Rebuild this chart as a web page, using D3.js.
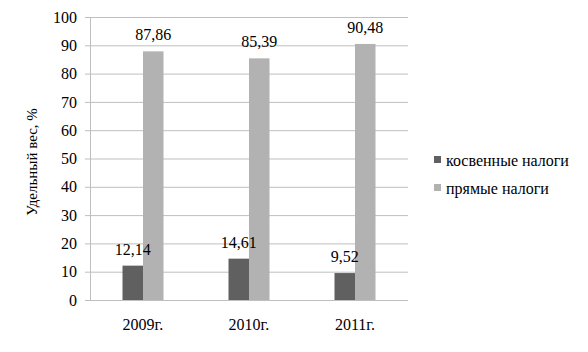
<!DOCTYPE html>
<html>
<head>
<meta charset="utf-8">
<script src="https://cdn.jsdelivr.net/npm/d3@7"></script>
<style>
  body { margin: 0; background: #fff; }
  svg text { font-family: "Liberation Serif", "Times New Roman", serif !important; fill: #000; }
</style>
</head>
<body>
<div id="chart"></div>
<script>
const years = ["2009г.", "2010г.", "2011г."];
const seriesNames = ["косвенные налоги", "прямые налоги"];
const indirectTax = [12.14, 14.61, 9.52];
const directTax = [87.86, 85.39, 90.48];
const yTicks = [0, 10, 20, 30, 40, 50, 60, 70, 80, 90, 100];
const colors = ["#606060", "#b2b2b2"];

const width = 588, height = 352;
const margin = { left: 90, right: 180, top: 17, bottom: 52 };
const graphWidth = width - margin.left - margin.right;
const graphHeight = height - margin.top - margin.bottom;

const svg = d3.select("#chart").append("svg")
  .attr("width", width)
  .attr("height", height);

const g = svg.append("g")
  .attr("transform", `translate(${margin.left},${margin.top})`);

const x = d3.scaleBand().domain(years).range([0, graphWidth]);
const y = d3.scaleLinear().domain([0, 100]).range([graphHeight, 0]);
const xSub = d3.scaleBand().domain(seriesNames).range([-20.5, 20.5]);

// gridlines
g.selectAll(".grid")
  .data(yTicks.filter(d => d > 0))
  .enter().append("line")
  .attr("x1", 0).attr("x2", graphWidth)
  .attr("y1", d => y(d) + 0.5).attr("y2", d => y(d) + 0.5)
  .attr("stroke", "#bfbfbf");

// y axis
const yAxis = g.append("g")
  .call(d3.axisLeft(y).tickValues(yTicks).tickSize(5).tickPadding(8).tickFormat(d3.format("d")));
yAxis.select(".domain").attr("stroke", "#bfbfbf");
yAxis.selectAll(".tick line").attr("stroke", "#bfbfbf");
yAxis.selectAll("text").style("font-size", "16px");

// x axis line
g.append("line")
  .attr("x1", 0).attr("x2", graphWidth)
  .attr("y1", graphHeight + 0.5).attr("y2", graphHeight + 0.5)
  .attr("stroke", "#bfbfbf");

g.selectAll(".xlabel")
  .data(years)
  .enter().append("text")
  .attr("x", d => x(d) + x.bandwidth() / 2)
  .attr("y", graphHeight + 30)
  .attr("text-anchor", "middle")
  .style("font-size", "16px")
  .text(d => d);

// bars first, labels after so they sit on top
const series = [indirectTax, directTax];
const barData = series.map((vals, si) => years.map((yr, i) => ({ yr, v: vals[i], s: seriesNames[si], c: colors[si] })));

barData.forEach((bars, si) => {
  g.selectAll(".bar" + si)
    .data(bars)
    .enter().append("rect")
    .attr("x", d => x(d.yr) + x.bandwidth() / 2 + xSub(d.s))
    .attr("width", xSub.bandwidth())
    .attr("y", d => y(d.v))
    .attr("height", d => graphHeight - y(d.v))
    .attr("fill", d => d.c);
});

barData.forEach((bars, si) => {
  g.selectAll(".lab" + si)
    .data(bars)
    .enter().append("text")
    .attr("x", d => x(d.yr) + x.bandwidth() / 2 + xSub(d.s) + xSub.bandwidth() / 2)
    .attr("y", d => y(d.v) - 11)
    .attr("text-anchor", "middle")
    .style("font-size", "16px")
    .text(d => d.v.toFixed(2).replace(".", ","));
});

// y axis title
svg.append("text")
  .attr("transform", "translate(37,162) rotate(-90)")
  .attr("text-anchor", "middle")
  .style("font-size", "15px")
  .text("Удельный вес, %");

// legend
const legend = svg.selectAll(".legend")
  .data(seriesNames)
  .enter().append("g")
  .attr("transform", (d, i) => `translate(434,${160 + i * 28})`);

legend.append("rect")
  .attr("x", 0).attr("y", -4)
  .attr("width", 7).attr("height", 7)
  .attr("fill", (d, i) => colors[i]);

legend.append("text")
  .attr("x", 12).attr("y", 0)
  .attr("dy", "0.35em")
  .style("font-size", "16px")
  .text(d => d);
</script>
</body>
</html>
